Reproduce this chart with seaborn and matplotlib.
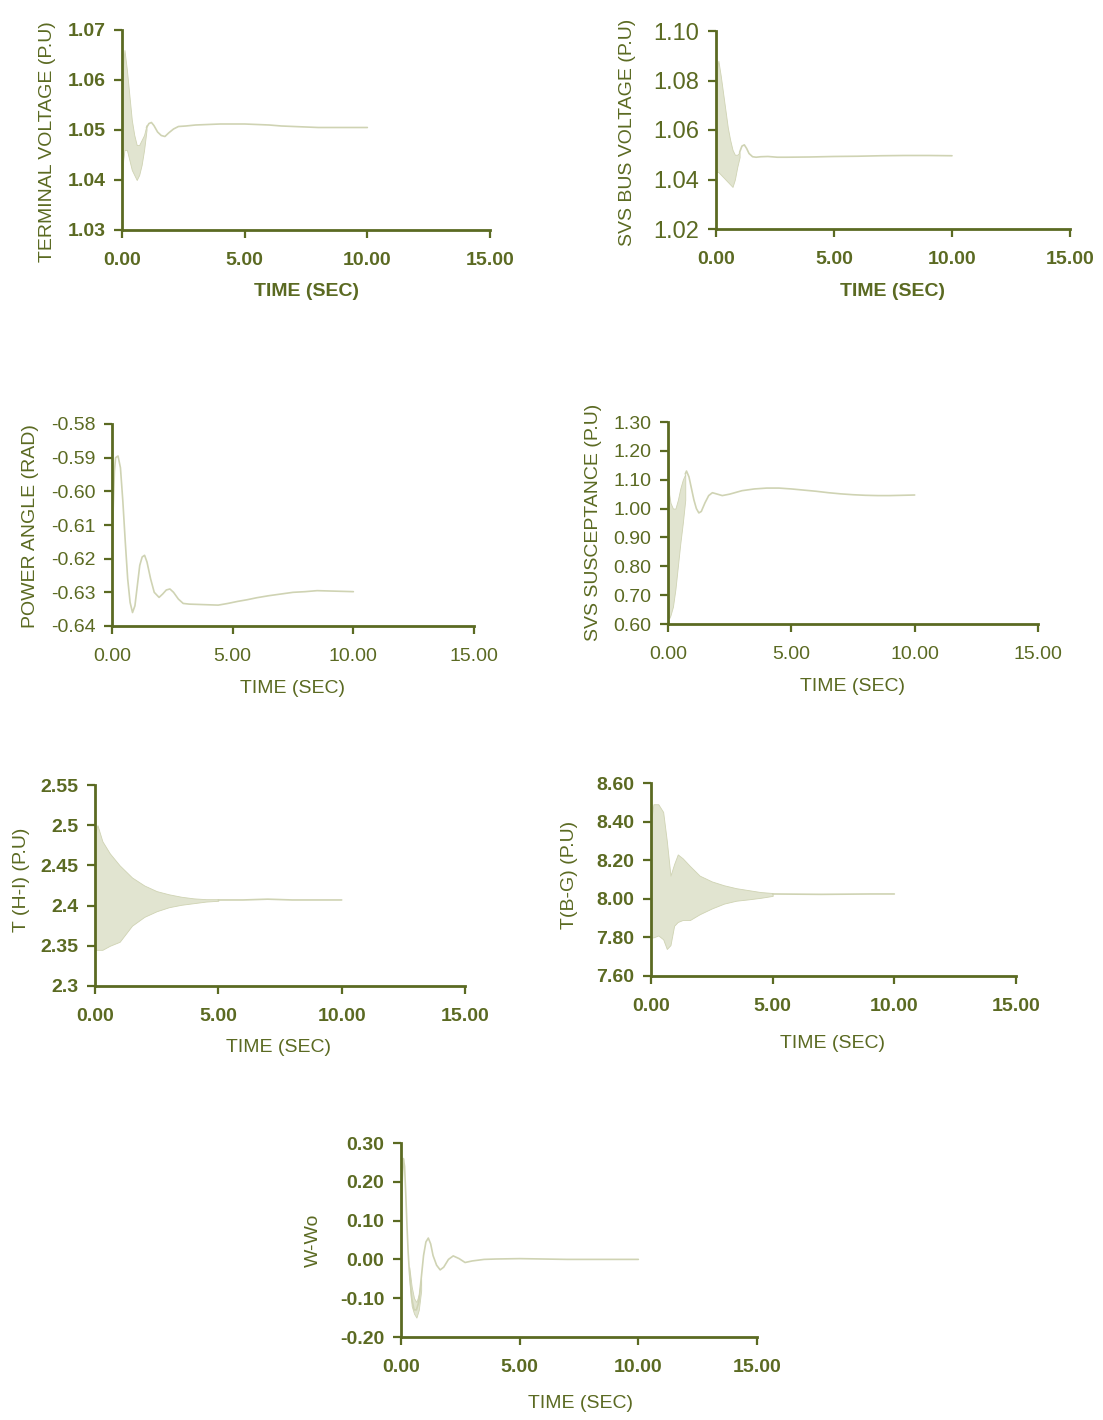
import matplotlib
matplotlib.use("Agg")
import matplotlib.pyplot as plt
import seaborn as sns

W, H = 1103, 1420
INK = "#5b6a22"
TRACE = "#cfd3b3"
BAND = "#e1e4d0"

# ---- terminal voltage ----
band1_t = [0.0, 0.05, 0.1, 0.2, 0.3, 0.4, 0.5, 0.6, 0.7, 0.8, 0.9, 1.0]
band1_lo = [1.040, 1.044, 1.046, 1.046, 1.044, 1.042, 1.041, 1.040, 1.041, 1.043, 1.046, 1.050]
band1_hi = [1.048, 1.063, 1.066, 1.062, 1.057, 1.052, 1.049, 1.047, 1.047, 1.048, 1.049, 1.051]
line1_t = [1.0, 1.1, 1.2, 1.3, 1.45, 1.6, 1.75, 1.9, 2.1, 2.3, 2.6, 3.0, 3.5, 4.0, 4.5,
           5.0, 5.5, 6.0, 6.5, 7.0, 7.5, 8.0, 8.5, 9.0, 9.5, 10.0]
line1_v = [1.0505, 1.0513, 1.0515, 1.0509, 1.0496, 1.0489, 1.0487, 1.0494, 1.0502, 1.0507,
           1.0508, 1.0510, 1.0511, 1.0512, 1.0512, 1.0512, 1.0511, 1.0510, 1.0508, 1.0507,
           1.0506, 1.0505, 1.0505, 1.0505, 1.0505, 1.0505]

# ---- svs bus voltage ----
band2_t = [0.0, 0.05, 0.1, 0.2, 0.3, 0.4, 0.5, 0.6, 0.7, 0.8, 0.9, 1.0]
band2_lo = [1.045, 1.043, 1.043, 1.042, 1.041, 1.040, 1.039, 1.038, 1.037, 1.040, 1.045, 1.049]
band2_hi = [1.060, 1.085, 1.088, 1.082, 1.075, 1.068, 1.061, 1.056, 1.052, 1.050, 1.050, 1.051]
line2_t = [1.0, 1.1, 1.2, 1.3, 1.4, 1.55, 1.7, 1.9, 2.2, 2.6, 3.0, 4.0, 5.0, 6.0, 7.0, 8.0, 9.0, 10.0]
line2_v = [1.051, 1.0535, 1.054, 1.0525, 1.0505, 1.0492, 1.0490, 1.0492, 1.0493, 1.0490,
           1.0490, 1.0491, 1.0493, 1.0494, 1.0496, 1.0497, 1.0497, 1.0496]

# ---- power angle ----
line3_t = [0.0, 0.05, 0.1, 0.15, 0.25, 0.35, 0.45, 0.55, 0.65, 0.75, 0.85, 0.95, 1.05, 1.15,
           1.25, 1.35, 1.45, 1.6, 1.75, 1.95, 2.1, 2.25, 2.4, 2.55, 2.75, 2.95, 3.2, 3.6,
           4.0, 4.4, 4.8, 5.2, 5.6, 6.0, 6.5, 7.0, 7.5, 8.0, 8.5, 9.0, 9.5, 10.0]
line3_v = [-0.627, -0.605, -0.594, -0.590, -0.5895, -0.593, -0.603, -0.615, -0.626, -0.633,
           -0.636, -0.634, -0.628, -0.622, -0.6195, -0.619, -0.621, -0.626, -0.630, -0.6315,
           -0.6305, -0.6293, -0.629, -0.6300, -0.6320, -0.6333, -0.6335, -0.6336, -0.6337,
           -0.6338, -0.6333, -0.6327, -0.6322, -0.6316, -0.6310, -0.6305, -0.6300, -0.6298,
           -0.6295, -0.6296, -0.6297, -0.6298]

# ---- svs susceptance ----
band4_t = [0.0, 0.05, 0.1, 0.2, 0.3, 0.4, 0.5, 0.6, 0.7]
band4_lo = [0.70, 0.62, 0.63, 0.66, 0.72, 0.80, 0.88, 0.95, 1.03]
band4_hi = [1.24, 1.05, 1.02, 1.00, 1.00, 1.03, 1.07, 1.10, 1.12]
line4_t = [0.7, 0.75, 0.85, 0.95, 1.05, 1.15, 1.25, 1.35, 1.5, 1.65, 1.8, 2.0, 2.2, 2.5, 3.0,
           3.5, 4.0, 4.5, 5.0, 5.5, 6.0, 6.5, 7.0, 7.5, 8.0, 8.5, 9.0, 9.5, 10.0]
line4_v = [1.12, 1.13, 1.11, 1.07, 1.03, 1.00, 0.985, 0.99, 1.02, 1.045, 1.055, 1.05, 1.045,
           1.05, 1.062, 1.068, 1.071, 1.071, 1.068, 1.064, 1.060, 1.055, 1.051, 1.048, 1.046,
           1.045, 1.045, 1.046, 1.047]

# ---- torque H-I ----
band5_t = [0.0, 0.1, 0.3, 0.6, 1.0, 1.5, 2.0, 2.5, 3.0, 3.5, 4.0, 4.5, 5.0]
band5_lo = [2.345, 2.345, 2.345, 2.35, 2.355, 2.375, 2.386, 2.393, 2.398, 2.401, 2.403, 2.405, 2.406]
band5_hi = [2.49, 2.50, 2.48, 2.465, 2.45, 2.435, 2.425, 2.418, 2.414, 2.411, 2.409, 2.408, 2.408]
line5_t = [5.0, 6.0, 7.0, 8.0, 9.0, 10.0]
line5_v = [2.407, 2.407, 2.408, 2.407, 2.407, 2.407]

# ---- torque B-G ----
band6_t = [0.0, 0.1, 0.3, 0.5, 0.65, 0.8, 0.95, 1.1, 1.3, 1.6, 2.0, 2.5, 3.0, 3.5, 4.0, 4.5, 5.0]
band6_lo = [7.80, 7.80, 7.81, 7.79, 7.74, 7.76, 7.86, 7.88, 7.89, 7.89, 7.92, 7.95, 7.975,
            7.99, 7.997, 8.005, 8.015]
band6_hi = [8.40, 8.49, 8.49, 8.45, 8.30, 8.12, 8.18, 8.23, 8.21, 8.17, 8.12, 8.09, 8.07,
            8.055, 8.045, 8.035, 8.03]
line6_t = [5.0, 6.0, 7.0, 8.0, 9.0, 10.0]
line6_v = [8.025, 8.024, 8.023, 8.024, 8.025, 8.025]

# ---- speed deviation ----
band7_t = [0.35, 0.45, 0.55, 0.65, 0.75, 0.85]
band7_lo = [-0.05, -0.12, -0.14, -0.15, -0.13, -0.08]
band7_hi = [-0.02, -0.07, -0.10, -0.11, -0.09, -0.05]
line7_t = [0.0, 0.05, 0.1, 0.15, 0.2, 0.25, 0.3, 0.35, 0.45, 0.55, 0.65, 0.75, 0.85, 0.95,
           1.05, 1.15, 1.25, 1.35, 1.5, 1.65, 1.8, 2.0, 2.2, 2.45, 2.7, 3.0, 3.5, 4.0, 5.0,
           6.0, 7.0, 8.0, 9.0, 10.0]
line7_v = [0.10, 0.20, 0.26, 0.24, 0.17, 0.09, 0.02, -0.03, -0.10, -0.13, -0.13, -0.11,
           -0.05, 0.01, 0.045, 0.055, 0.04, 0.01, -0.015, -0.027, -0.02, 0.0, 0.009, 0.002,
           -0.008, -0.004, 0.0, 0.001, 0.002, 0.001, 0.0, 0.0, 0.0, 0.0]

x_ticks = [0, 5, 10, 15]
x_ticklabels = ["0.00", "5.00", "10.00", "15.00"]
x_label = "TIME (SEC)"

sns.set_style("ticks")
plt.rcParams["font.family"] = ["Liberation Sans", "DejaVu Sans"]

fig = plt.figure(figsize=(W / 100, H / 100), dpi=100)


def panel(box, ylim, yticks, yticklabels, ylabel, ylab_xy, xlab_xy,
          ysize=14, xsize=14, yweight="normal", xweight="normal", lab_weight="normal"):
    left, top, right, bottom = box
    ax = fig.add_axes([left / W, 1 - bottom / H, (right - left) / W, (bottom - top) / H])
    ax.set_facecolor("none")
    ax.set_xlim(0, 15)
    ax.set_ylim(*ylim)
    ax.set_xticks(x_ticks)
    ax.set_xticklabels(x_ticklabels, fontsize=xsize, weight=xweight)
    ax.set_yticks(yticks)
    ax.set_yticklabels(yticklabels, fontsize=ysize, weight=yweight)
    ax.tick_params(axis="both", direction="out", length=6, width=1.6, color=INK, labelcolor=INK)
    ax.tick_params(axis="x", pad=10)
    ax.tick_params(axis="y", pad=6)
    sns.despine(ax=ax)
    for s in ("left", "bottom"):
        ax.spines[s].set_color(INK)
        ax.spines[s].set_linewidth(2.0)
    ax.set_xlabel(x_label, fontsize=14, color=INK, weight=lab_weight)
    ax.set_ylabel(ylabel, fontsize=14, color=INK)
    ax.yaxis.label.set(va="center", ha="center")
    ax.xaxis.label.set(va="center", ha="center")
    ax.yaxis.set_label_coords((ylab_xy[0] - left) / (right - left), (bottom - ylab_xy[1]) / (bottom - top))
    ax.xaxis.set_label_coords((xlab_xy[0] - left) / (right - left), (bottom - xlab_xy[1]) / (bottom - top))
    return ax


def trace(ax, t, v):
    sns.lineplot(x=t, y=v, ax=ax, color=TRACE, linewidth=1.2, estimator=None, sort=False)


def band(ax, t, lo, hi):
    ax.fill_between(t, lo, hi, color=BAND, linewidth=0.6, edgecolor=TRACE)


ax1 = panel((122, 30, 490, 230), (1.03, 1.07), [1.03, 1.04, 1.05, 1.06, 1.07],
            ["1.03", "1.04", "1.05", "1.06", "1.07"], "TERMINAL VOLTAGE (P.U)",
            (47, 142), (306, 292), yweight="bold", xweight="bold", lab_weight="bold")
band(ax1, band1_t, band1_lo, band1_hi)
trace(ax1, line1_t, line1_v)

ax2 = panel((716, 31, 1070, 229), (1.02, 1.10), [1.02, 1.04, 1.06, 1.08, 1.10],
            ["1.02", "1.04", "1.06", "1.08", "1.10"], "SVS BUS VOLTAGE (P.U)",
            (627, 132), (893, 291), ysize=17, xweight="bold", lab_weight="bold")
band(ax2, band2_t, band2_lo, band2_hi)
trace(ax2, line2_t, line2_v)

ax3 = panel((112, 424, 474, 626), (-0.64, -0.58),
            [-0.64, -0.63, -0.62, -0.61, -0.60, -0.59, -0.58],
            ["-0.64", "-0.63", "-0.62", "-0.61", "-0.60", "-0.59", "-0.58"],
            "POWER ANGLE (RAD)", (31, 526), (292, 688))
trace(ax3, line3_t, line3_v)

ax4 = panel((668, 422, 1038, 624), (0.60, 1.30),
            [0.60, 0.70, 0.80, 0.90, 1.00, 1.10, 1.20, 1.30],
            ["0.60", "0.70", "0.80", "0.90", "1.00", "1.10", "1.20", "1.30"],
            "SVS SUSCEPTANCE (P.U)", (594, 522), (852, 686))
band(ax4, band4_t, band4_lo, band4_hi)
trace(ax4, line4_t, line4_v)

ax5 = panel((95, 785, 465, 986), (2.30, 2.55), [2.30, 2.35, 2.40, 2.45, 2.50, 2.55],
            ["2.3", "2.35", "2.4", "2.45", "2.5", "2.55"], "T (H-I) (P.U)",
            (22, 880), (279, 1048), yweight="bold", xweight="bold")
band(ax5, band5_t, band5_lo, band5_hi)
trace(ax5, line5_t, line5_v)

ax6 = panel((651, 783, 1016, 976), (7.60, 8.60), [7.60, 7.80, 8.00, 8.20, 8.40, 8.60],
            ["7.60", "7.80", "8.00", "8.20", "8.40", "8.60"], "T(B-G) (P.U)",
            (570, 875), (832, 1043), yweight="bold", xweight="bold")
band(ax6, band6_t, band6_lo, band6_hi)
trace(ax6, line6_t, line6_v)

ax7 = panel((401, 1143, 757, 1337), (-0.20, 0.30), [-0.20, -0.10, 0.00, 0.10, 0.20, 0.30],
            ["-0.20", "-0.10", "0.00", "0.10", "0.20", "0.30"], "W-Wo",
            (313, 1240), (580, 1404), yweight="bold", xweight="bold")
band(ax7, band7_t, band7_lo, band7_hi)
trace(ax7, line7_t, line7_v)

fig.savefig("out.png", dpi=100, facecolor="white")
plt.close(fig)
